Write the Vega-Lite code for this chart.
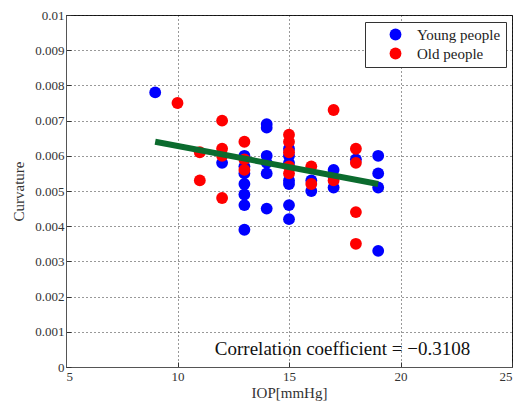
{
  "$schema": "https://vega.github.io/schema/vega-lite/v6.json",
  "width": 446,
  "height": 352,
  "autosize": {"type": "none"},
  "padding": {"left": 66, "top": 15, "right": 12, "bottom": 38},
  "background": "white",
  "config": {
    "view": {"stroke": "#222222", "strokeWidth": 1},
    "font": "Liberation Serif",
    "mark": {"font": "Liberation Serif"},
    "text": {"font": "Liberation Serif"},
    "axis": {
      "labelFont": "Liberation Serif",
      "titleFont": "Liberation Serif",
      "labelFontSize": 13,
      "titleFontSize": 15,
      "labelColor": "#333333",
      "titleColor": "#333333",
      "titleFontWeight": "normal",
      "domainColor": "#555555",
      "tickColor": "#333333",
      "tickSize": -5,
      "gridColor": "#000000",
      "gridDash": [1, 3],
      "gridOpacity": 0.8,
      "labelOverlap": false
    }
  },
  "datasets": {
    "pts": [
      {"group": "Young people", "iop": 9, "curvature": 0.0078},
      {"group": "Young people", "iop": 12, "curvature": 0.0058},
      {"group": "Young people", "iop": 13, "curvature": 0.0060},
      {"group": "Young people", "iop": 13, "curvature": 0.0057},
      {"group": "Young people", "iop": 13, "curvature": 0.0055},
      {"group": "Young people", "iop": 13, "curvature": 0.0052},
      {"group": "Young people", "iop": 13, "curvature": 0.0049},
      {"group": "Young people", "iop": 13, "curvature": 0.0046},
      {"group": "Young people", "iop": 13, "curvature": 0.0039},
      {"group": "Young people", "iop": 14, "curvature": 0.0069},
      {"group": "Young people", "iop": 14, "curvature": 0.0068},
      {"group": "Young people", "iop": 14, "curvature": 0.0060},
      {"group": "Young people", "iop": 14, "curvature": 0.0058},
      {"group": "Young people", "iop": 14, "curvature": 0.0055},
      {"group": "Young people", "iop": 14, "curvature": 0.0045},
      {"group": "Young people", "iop": 15, "curvature": 0.0062},
      {"group": "Young people", "iop": 15, "curvature": 0.0060},
      {"group": "Young people", "iop": 15, "curvature": 0.0058},
      {"group": "Young people", "iop": 15, "curvature": 0.0053},
      {"group": "Young people", "iop": 15, "curvature": 0.0052},
      {"group": "Young people", "iop": 15, "curvature": 0.0046},
      {"group": "Young people", "iop": 15, "curvature": 0.0042},
      {"group": "Young people", "iop": 16, "curvature": 0.0053},
      {"group": "Young people", "iop": 16, "curvature": 0.0050},
      {"group": "Young people", "iop": 17, "curvature": 0.0056},
      {"group": "Young people", "iop": 17, "curvature": 0.0054},
      {"group": "Young people", "iop": 17, "curvature": 0.0051},
      {"group": "Young people", "iop": 18, "curvature": 0.0059},
      {"group": "Young people", "iop": 19, "curvature": 0.0060},
      {"group": "Young people", "iop": 19, "curvature": 0.0055},
      {"group": "Young people", "iop": 19, "curvature": 0.0051},
      {"group": "Young people", "iop": 19, "curvature": 0.0033},
      {"group": "Old people", "iop": 10, "curvature": 0.0075},
      {"group": "Old people", "iop": 11, "curvature": 0.0061},
      {"group": "Old people", "iop": 11, "curvature": 0.0053},
      {"group": "Old people", "iop": 12, "curvature": 0.0070},
      {"group": "Old people", "iop": 12, "curvature": 0.0062},
      {"group": "Old people", "iop": 12, "curvature": 0.0060},
      {"group": "Old people", "iop": 12, "curvature": 0.0048},
      {"group": "Old people", "iop": 13, "curvature": 0.0064},
      {"group": "Old people", "iop": 13, "curvature": 0.0059},
      {"group": "Old people", "iop": 13, "curvature": 0.0056},
      {"group": "Old people", "iop": 15, "curvature": 0.0066},
      {"group": "Old people", "iop": 15, "curvature": 0.0064},
      {"group": "Old people", "iop": 15, "curvature": 0.0061},
      {"group": "Old people", "iop": 15, "curvature": 0.0057},
      {"group": "Old people", "iop": 15, "curvature": 0.0055},
      {"group": "Old people", "iop": 16, "curvature": 0.0057},
      {"group": "Old people", "iop": 16, "curvature": 0.0052},
      {"group": "Old people", "iop": 17, "curvature": 0.0073},
      {"group": "Old people", "iop": 17, "curvature": 0.0053},
      {"group": "Old people", "iop": 18, "curvature": 0.0062},
      {"group": "Old people", "iop": 18, "curvature": 0.0058},
      {"group": "Old people", "iop": 18, "curvature": 0.0044},
      {"group": "Old people", "iop": 18, "curvature": 0.0035}
    ],
    "fit": [
      {"iop": 9, "curvature": 0.0064},
      {"iop": 19, "curvature": 0.0052}
    ],
    "note": [
      {"iop": 17.4, "curvature": 0.00034, "label": "Correlation coefficient = −0.3108"}
    ]
  },
  "layer": [
    {
      "data": {"name": "pts"},
      "mark": {"type": "point", "filled": true, "shape": "circle", "size": 140, "opacity": 1},
      "encoding": {
        "x": {
          "field": "iop", "type": "quantitative",
          "scale": {"domain": [5, 25], "nice": false, "zero": false},
          "axis": {"title": "IOP[mmHg]", "values": [5, 10, 15, 20, 25], "grid": true, "labelPadding": 8, "titlePadding": 2}
        },
        "y": {
          "field": "curvature", "type": "quantitative",
          "scale": {"domain": [0, 0.01], "nice": false},
          "axis": {
            "title": "Curvature",
            "values": [0, 0.001, 0.002, 0.003, 0.004, 0.005, 0.006, 0.007, 0.008, 0.009, 0.01],
            "tickCount": 20,
            "labelExpr": "datum.value == 0 ? '0' : format(datum.value, '.3~f')",
            "grid": true, "labelPadding": 7, "titlePadding": 8
          }
        },
        "color": {
          "field": "group", "type": "nominal",
          "scale": {"domain": ["Young people", "Old people"], "range": ["#0000FF", "#FF0000"]},
          "legend": {
            "title": null,
            "orient": "none",
            "legendX": 299,
            "legendY": 7,
            "fillColor": "white",
            "strokeColor": "#333333",
            "padding": 5,
            "labelFont": "Liberation Serif",
            "labelFontSize": 15,
            "labelColor": "#222222",
            "symbolSize": 140,
            "symbolType": "circle",
            "symbolStrokeWidth": 0,
            "rowPadding": 3,
            "labelOffset": 14,
            "symbolOffset": 18,
            "labelLimit": 200
          }
        }
      }
    },
    {
      "data": {"name": "fit"},
      "mark": {"type": "line", "color": "#0B6B2E", "strokeWidth": 6},
      "encoding": {
        "x": {"field": "iop", "type": "quantitative"},
        "y": {"field": "curvature", "type": "quantitative"}
      }
    },
    {
      "data": {"name": "note"},
      "mark": {"type": "text", "font": "Liberation Serif", "fontSize": 19, "color": "#111111", "baseline": "alphabetic", "align": "center"},
      "encoding": {
        "x": {"field": "iop", "type": "quantitative"},
        "y": {"field": "curvature", "type": "quantitative"},
        "text": {"field": "label"}
      }
    }
  ]
}
